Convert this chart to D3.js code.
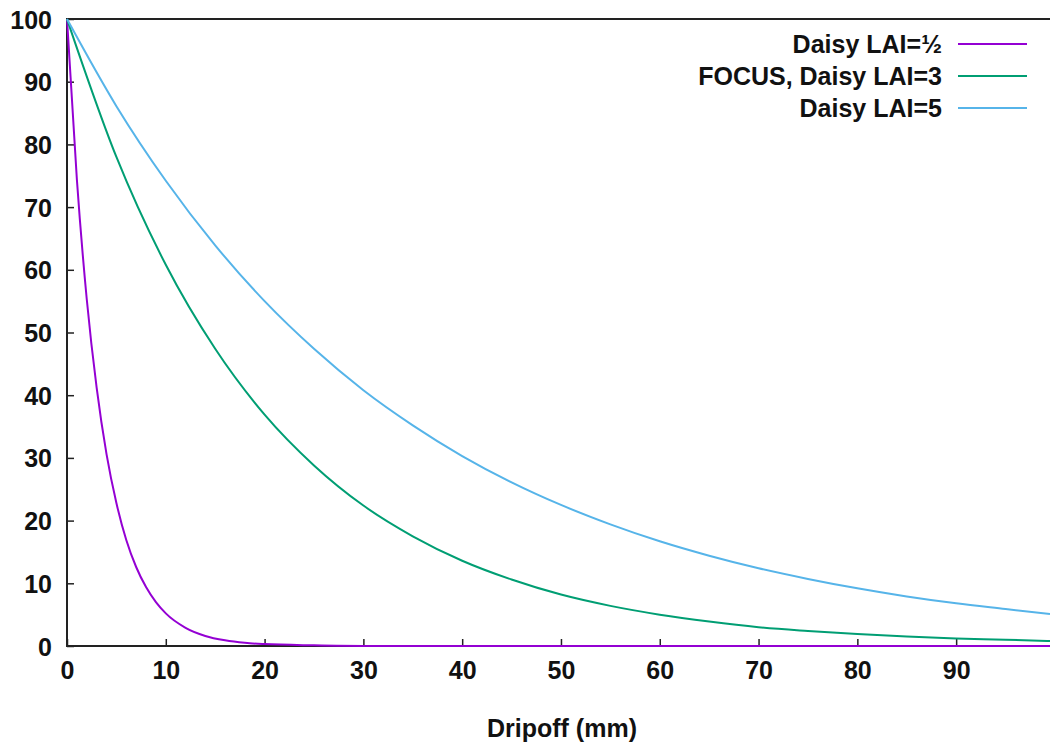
<!DOCTYPE html>
<html>
<head>
<meta charset="utf-8">
<script src="https://cdn.jsdelivr.net/npm/d3@7"></script>
<style>
  body { margin: 0; background: #fff; }
  text { font-family: "Liberation Sans", Arial, sans-serif; font-weight: bold; fill: #111; }
</style>
</head>
<body>
<div id="chart"></div>
<script>
// values (dripoff in mm, fraction remaining in %)
var seriesNames = ["Daisy LAI=\u00bd", "FOCUS, Daisy LAI=3", "Daisy LAI=5"];
var seriesColors = ["#9400d3", "#009e73", "#56b4e9"];

var halfX = [0, 1, 2, 3, 4, 5, 6, 7, 8, 9, 10, 12, 14, 16, 18, 20, 25, 30, 40, 60, 80, 99.5];
var halfY = [100, 74.4, 55.3, 41.2, 30.6, 22.8, 16.9, 12.6, 9.4, 7.0, 5.2, 2.9, 1.6, 0.9, 0.5, 0.3, 0.1, 0, 0, 0, 0, 0];

var focusX = [0, 5, 10, 15, 20, 25, 30, 35, 40, 45, 50, 55, 60, 65, 70, 75, 80, 85, 90, 95, 99.5];
var focusY = [100, 78.0, 60.8, 47.4, 36.9, 28.8, 22.4, 17.5, 13.6, 10.6, 8.2, 6.4, 5.0, 3.9, 3.0, 2.4, 1.9, 1.5, 1.2, 1.0, 0.8];

var fiveX = [0, 5, 10, 15, 20, 25, 30, 35, 40, 45, 50, 55, 60, 65, 70, 75, 80, 85, 90, 95, 99.5];
var fiveY = [100, 86.1, 74.2, 63.9, 55.0, 47.4, 40.8, 35.2, 30.3, 26.1, 22.5, 19.4, 16.7, 14.4, 12.4, 10.7, 9.2, 7.9, 6.8, 5.9, 5.1];

var xTicks = [0, 10, 20, 30, 40, 50, 60, 70, 80, 90];
var yTicks = [0, 10, 20, 30, 40, 50, 60, 70, 80, 90, 100];

var margin = {top: 19, right: 0, bottom: 98, left: 67},
    width = 1050 - margin.left - margin.right,
    height = 744 - margin.top - margin.bottom;

var svg = d3.select("#chart")
  .append("svg")
    .attr("width", 1050)
    .attr("height", 744)
  .append("g")
    .attr("transform", "translate(" + margin.left + "," + margin.top + ")");

var x = d3.scaleLinear().domain([0, 99.5]).range([0, width]);
var y = d3.scaleLinear().domain([0, 100]).range([height, 0]);

// tick marks point inward, like gnuplot
var xAxis = svg.append("g")
    .attr("transform", "translate(0," + height + ")")
    .call(d3.axisBottom(x).tickValues(xTicks).tickSize(-7).tickPadding(16));
var yAxis = svg.append("g")
    .call(d3.axisLeft(y).tickValues(yTicks).tickSize(-7).tickPadding(15));

[xAxis, yAxis].forEach(function(a) {
  a.select(".domain").remove();
  a.selectAll(".tick line").attr("stroke", "#222").attr("stroke-width", 1.5);
  a.selectAll(".tick text").style("font-size", "25px").attr("fill", "#111");
});
xAxis.selectAll(".tick text").attr("dy", "0.68em");
yAxis.selectAll(".tick text").attr("dy", "0.36em");

// border: left, bottom, top
svg.append("path")
    .attr("d", "M" + width + ",0H0V" + height + "H" + width)
    .attr("fill", "none")
    .attr("stroke", "#222")
    .attr("stroke-width", 2);

var series = [
  {xs: halfX, ys: halfY},
  {xs: focusX, ys: focusY},
  {xs: fiveX, ys: fiveY}
];

var line = d3.line()
    .x(function(d) { return x(d[0]); })
    .y(function(d) { return y(d[1]); })
    .curve(d3.curveMonotoneX);

series.forEach(function(s, i) {
  var pts = s.xs.map(function(v, j) { return [v, s.ys[j]]; });
  svg.append("path")
      .datum(pts)
      .attr("fill", "none")
      .attr("stroke", seriesColors[i])
      .attr("stroke-width", 2)
      .attr("d", line);
});

// legend
seriesNames.forEach(function(name, i) {
  var ly = 25 + i * 32;
  svg.append("text")
      .attr("x", 942 - margin.left).attr("y", ly)
      .attr("dy", "0.36em")
      .attr("text-anchor", "end")
      .style("font-size", "25px")
      .text(name);
  svg.append("line")
      .attr("x1", 958 - margin.left).attr("x2", 1027 - margin.left)
      .attr("y1", ly).attr("y2", ly)
      .attr("stroke", seriesColors[i])
      .attr("stroke-width", 2);
});

svg.append("text")
    .attr("x", 562 - margin.left)
    .attr("y", 737 - margin.top)
    .attr("text-anchor", "middle")
    .style("font-size", "25px")
    .text("Dripoff (mm)");
</script>
</body>
</html>
